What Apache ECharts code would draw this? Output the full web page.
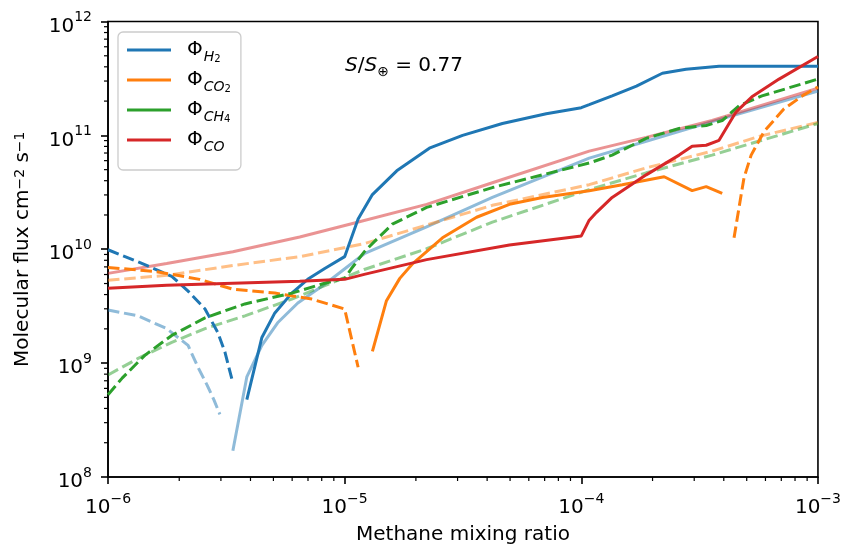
<!DOCTYPE html>
<html>
<head>
<meta charset="utf-8">
<script src="https://cdn.jsdelivr.net/npm/echarts@6/dist/echarts.min.js"></script>
<style>
  html, body { margin: 0; padding: 0; background: #ffffff; }
  #chart { width: 844px; height: 550px; }
</style>
</head>
<body>
<div id="chart"></div>
<script>
// Methane mixing ratio (x) against molecular flux in cm^-2 s^-1 (y).
// "net" curves are solid, "neg" curves are the dashed (negative) branches,
// "ref" curves are the faded reference runs.

const h2Net_x = [3.86e-6, 4.47e-6, 5.07e-6, 5.98e-6, 6.98e-6, 8.24e-6, 1.0e-5, 1.14e-5, 1.31e-5, 1.66e-5, 2.28e-5, 3.15e-5, 4.64e-5, 7.11e-5, 1.0e-4, 1.08e-4, 1.35e-4, 1.71e-4, 2.2e-4, 2.77e-4, 3.82e-4, 1.0e-3];
const h2Net_y = [4.78e8, 1.68e9, 2.76e9, 4.12e9, 5.44e9, 6.78e9, 8.61e9, 1.84e10, 3.02e10, 4.88e10, 7.72e10, 1.0e11, 1.27e11, 1.55e11, 1.75e11, 1.86e11, 2.22e11, 2.71e11, 3.51e11, 3.80e11, 4.04e11, 4.04e11];

const h2Neg_x = [1.0e-6, 1.43e-6, 1.86e-6, 2.18e-6, 2.57e-6, 2.91e-6, 3.12e-6, 3.37e-6];
const h2Neg_y = [9.9e9, 7.34e9, 5.78e9, 4.29e9, 2.99e9, 1.86e9, 1.25e9, 6.7e8];

const h2Ref_x = [3.37e-6, 3.86e-6, 4.47e-6, 5.21e-6, 6.34e-6, 8.24e-6, 1.21e-5, 2.22e-5, 4.21e-5, 1.08e-4, 1.88e-4, 3.57e-4, 1.0e-3];
const h2Ref_y = [1.7e8, 7.56e8, 1.43e9, 2.26e9, 3.37e9, 4.93e9, 9.14e9, 1.57e10, 2.85e10, 6.32e10, 8.87e10, 1.32e11, 2.45e11];

const h2RefNeg_x = [1.0e-6, 1.34e-6, 1.77e-6, 2.18e-6, 2.40e-6, 2.62e-6, 2.80e-6, 2.97e-6];
const h2RefNeg_y = [2.93e9, 2.6e9, 2.01e9, 1.43e9, 9.2e8, 6.45e8, 4.78e8, 3.55e8];

const co2Net_x = [1.31e-5, 1.50e-5, 1.71e-5, 1.94e-5, 2.59e-5, 3.61e-5, 4.97e-5, 6.85e-5, 1.08e-4, 1.49e-4, 2.24e-4, 2.94e-4, 3.37e-4, 3.94e-4];
const co2Net_y = [1.27e9, 3.51e9, 5.55e9, 7.49e9, 1.26e10, 1.91e10, 2.48e10, 2.85e10, 3.27e10, 3.69e10, 4.33e10, 3.27e10, 3.55e10, 3.09e10];

const co2NegLow_x = [1.0e-6, 1.58e-6, 2.44e-6, 3.37e-6, 5.07e-6, 7.26e-6, 1.0e-5, 1.14e-5];
const co2NegLow_y = [6.92e9, 6.39e9, 5.44e9, 4.46e9, 4.12e9, 3.65e9, 2.99e9, 9.2e8];

const co2NegHigh_x = [4.42e-4, 4.64e-4, 4.87e-4, 5.22e-4, 5.92e-4, 7.19e-4, 8.73e-4, 1.0e-3];
const co2NegHigh_y = [1.26e10, 2.33e10, 4.24e10, 6.71e10, 1.08e11, 1.71e11, 2.27e11, 2.66e11];

const co2Ref_x = [1.0e-6, 1.77e-6, 3.37e-6, 6.46e-6, 1.21e-5, 2.22e-5, 4.21e-5, 1.08e-4, 1.88e-4, 3.57e-4, 5.64e-4, 1.0e-3];
const co2Ref_y = [5.34e9, 5.9e9, 7.2e9, 8.61e9, 1.12e10, 1.63e10, 2.43e10, 3.69e10, 5.18e10, 7.27e10, 9.8e10, 1.3e11];

const ch4Net_x = [1.0e-6, 1.15e-6, 1.43e-6, 1.86e-6, 2.57e-6, 3.79e-6, 5.98e-6, 8.24e-6, 1.0e-5, 1.07e-5, 1.21e-5, 1.37e-5, 1.59e-5, 2.22e-5, 4.21e-5, 6.85e-5, 1.08e-4, 1.35e-4, 1.88e-4, 2.59e-4, 3.37e-4, 3.94e-4, 4.64e-4, 5.8e-4, 1.0e-3];
const ch4Net_y = [5.28e8, 7.42e8, 1.17e9, 1.75e9, 2.5e9, 3.31e9, 4.12e9, 5.03e9, 5.55e9, 6.78e9, 9.5e9, 1.23e10, 1.66e10, 2.33e10, 3.48e10, 4.5e10, 5.72e10, 6.71e10, 9.42e10, 1.15e11, 1.22e11, 1.35e11, 1.82e11, 2.22e11, 3.12e11];

const ch4Ref_x = [1.0e-6, 1.34e-6, 1.86e-6, 2.57e-6, 3.79e-6, 5.98e-6, 1.21e-5, 2.22e-5, 4.21e-5, 1.08e-4, 1.88e-4, 3.57e-4, 1.0e-3];
const ch4Ref_y = [7.87e8, 1.1e9, 1.52e9, 2.01e9, 2.6e9, 3.65e9, 6.64e9, 1.01e10, 1.73e10, 3.34e10, 4.69e10, 6.71e10, 1.27e11];

const coNet_x = [1.0e-6, 1.77e-6, 3.37e-6, 6.46e-6, 1.0e-5, 1.21e-5, 2.22e-5, 4.97e-5, 1.0e-4, 1.08e-4, 1.16e-4, 1.35e-4, 1.88e-4, 2.59e-4, 2.94e-4, 3.37e-4, 3.82e-4, 4.51e-4, 5.26e-4, 6.85e-4, 1.0e-3];
const coNet_y = [4.55e9, 4.83e9, 5.03e9, 5.23e9, 5.44e9, 6.02e9, 8.11e9, 1.09e10, 1.31e10, 1.8e10, 2.11e10, 2.85e10, 4.5e10, 6.71e10, 8.03e10, 8.19e10, 9.05e10, 1.61e11, 2.18e11, 3.12e11, 4.93e11];

const coRef_x = [1.0e-6, 1.77e-6, 3.37e-6, 6.46e-6, 1.05e-5, 2.22e-5, 4.21e-5, 1.08e-4, 1.88e-4, 3.57e-4, 1.0e-3];
const coRef_y = [6.14e9, 7.49e9, 9.5e9, 1.28e10, 1.66e10, 2.48e10, 3.84e10, 7.27e10, 9.6e10, 1.35e11, 2.6e11];

// Axis ranges and legend entries
const xRange = [1e-6, 1e-3];
const yRange = [1e8, 1e12];
const legendNames = ['H2', 'CO2', 'CH4', 'CO'];
const legendSubs = { H2: ['H', '2'], CO2: ['CO', '2'], CH4: ['CH', '4'], CO: ['CO', ''] };
const annotation = { lead: 'S', slash: '/', base: 'S', sub: '\u2295', tail: ' = 0.77' };

const FONT = 'DejaVu Sans';
const BLUE = '#1f77b4', ORANGE = '#ff7f0e', GREEN = '#2ca02c', RED = '#d62728';
const DASH = [11.5, 4.8];
const LW = 3;

function pairs(xs, ys) { return xs.map((x, i) => [x, ys[i]]); }

function line(name, xs, ys, color, dashed, faded) {
  return {
    name: name,
    type: 'line',
    data: pairs(xs, ys),
    symbol: 'none',
    showSymbol: false,
    smooth: false,
    animation: false,
    silent: true,
    z: faded ? 2 : 3,
    lineStyle: {
      color: color,
      width: LW,
      type: dashed ? DASH : 'solid',
      opacity: faded ? 0.5 : 1,
      cap: 'butt'
    },
    itemStyle: { color: color }
  };
}

// minor tick positions at 2..9 x 10^k inside each decade
const mantissas = [2, 3, 4, 5, 6, 7, 8, 9];
const minorX = [];
for (let k = -6; k < -3; k++) mantissas.forEach(m => minorX.push(m * Math.pow(10, k)));
const minorY = [];
for (let k = 8; k < 12; k++) mantissas.forEach(m => minorY.push(m * Math.pow(10, k)));

function expLabel(v) {
  const e = Math.round(Math.log10(v));
  const s = e < 0 ? '\u2212' + (-e) : String(e);
  return '{b|10}{e|' + s + '}';
}

const tickRich = {
  b: { fontFamily: FONT, fontSize: 20, color: '#000', lineHeight: 26, verticalAlign: 'bottom' },
  e: { fontFamily: FONT, fontSize: 14, color: '#000', lineHeight: 14, verticalAlign: 'top' }
};

const chart = echarts.init(document.getElementById('chart'), null, { renderer: 'canvas' });

const series = [
  // faded reference runs
  line('h2Ref', h2Ref_x, h2Ref_y, BLUE, false, true),
  line('h2RefNeg', h2RefNeg_x, h2RefNeg_y, BLUE, true, true),
  line('co2Ref', co2Ref_x, co2Ref_y, ORANGE, true, true),
  line('ch4Ref', ch4Ref_x, ch4Ref_y, GREEN, true, true),
  line('coRef', coRef_x, coRef_y, RED, false, true),
  // main runs
  line('H2', h2Net_x, h2Net_y, BLUE, false, false),
  line('h2Neg', h2Neg_x, h2Neg_y, BLUE, true, false),
  line('CO2', co2Net_x, co2Net_y, ORANGE, false, false),
  line('co2NegLow', co2NegLow_x, co2NegLow_y, ORANGE, true, false),
  line('co2NegHigh', co2NegHigh_x, co2NegHigh_y, ORANGE, true, false),
  line('CH4', ch4Net_x, ch4Net_y, GREEN, true, false),
  line('CO', coNet_x, coNet_y, RED, false, false),
  // minor ticks on the bottom and left spines
  {
    type: 'custom', silent: true, animation: false, clip: false, z: 5,
    data: minorX.map(v => [v, yRange[0]]),
    renderItem: (params, api) => {
      const p = api.coord([api.value(0), api.value(1)]);
      return { type: 'line', shape: { x1: p[0], y1: p[1], x2: p[0], y2: p[1] + 4 }, style: { stroke: '#000', lineWidth: 1.2 } };
    }
  },
  {
    type: 'custom', silent: true, animation: false, clip: false, z: 5,
    data: minorY.map(v => [xRange[0], v]),
    renderItem: (params, api) => {
      const p = api.coord([api.value(0), api.value(1)]);
      return { type: 'line', shape: { x1: p[0], y1: p[1], x2: p[0] - 4, y2: p[1] }, style: { stroke: '#000', lineWidth: 1.2 } };
    }
  }
];

const option = {
  backgroundColor: '#ffffff',
  animation: false,
  grid: {
    left: 108, right: 25, top: 21.5, bottom: 66.5,
    show: true, borderColor: '#000', borderWidth: 1.6, backgroundColor: 'transparent'
  },
  xAxis: {
    type: 'log', logBase: 10, min: xRange[0], max: xRange[1],
    name: 'Methane mixing ratio', nameLocation: 'middle', nameGap: 48,
    nameTextStyle: { fontFamily: FONT, fontSize: 20, color: '#000' },
    axisLine: { show: true, lineStyle: { color: '#000', width: 1.6 } },
    axisTick: { show: true, length: 7, lineStyle: { color: '#000', width: 1.6 } },
    splitLine: { show: false },
    minorTick: { show: false },
    axisLabel: { margin: 15, formatter: expLabel, rich: tickRich, color: '#000' }
  },
  yAxis: {
    type: 'log', logBase: 10, min: yRange[0], max: yRange[1],
    name: 'Molecular flux cm{s|\u22122} s{s|\u22121}', nameLocation: 'middle', nameGap: 75, nameRotate: 90,
    nameTextStyle: {
      fontFamily: FONT, fontSize: 20, color: '#000',
      rich: {
        s: { fontFamily: FONT, fontSize: 14, color: '#000', verticalAlign: 'top', lineHeight: 14 }
      }
    },
    axisLine: { show: true, lineStyle: { color: '#000', width: 1.6 } },
    axisTick: { show: true, length: 7, lineStyle: { color: '#000', width: 1.6 } },
    splitLine: { show: false },
    minorTick: { show: false },
    axisLabel: { margin: 16, formatter: expLabel, rich: tickRich, color: '#000', padding: [4, 0, 0, 0] }
  },
  legend: {
    orient: 'vertical', left: 118, top: 32,
    padding: [8, 10, 16, 9], itemGap: 6, itemWidth: 44, itemHeight: 3,
    backgroundColor: 'rgba(255,255,255,0.8)', borderColor: '#cccccc', borderWidth: 1.3, borderRadius: 5,
    selectedMode: false,
    data: legendNames.map(n => ({ name: n, icon: 'path://M0,0L44,0L44,3L0,3Z' })),
    formatter: name => {
      const s = legendSubs[name];
      return '{p|\u03A6}{s|' + s[0] + '}' + (s[1] ? '{ss|' + s[1] + '}' : '');
    },
    textStyle: {
      color: '#000',
      rich: {
        p: { fontFamily: FONT, fontSize: 20, color: '#000', lineHeight: 28, verticalAlign: 'middle', padding: [0, 1, 0, 11] },
        s: { fontFamily: FONT, fontSize: 14, fontStyle: 'italic', color: '#000', lineHeight: 13, verticalAlign: 'bottom' },
        ss: { fontFamily: FONT, fontSize: 10, color: '#000', lineHeight: 8, verticalAlign: 'bottom' }
      }
    }
  },
  graphic: [
    {
      type: 'text', left: 345, top: 56, silent: true,
      style: {
        text: '{i|' + annotation.lead + '}{n|' + annotation.slash + '}{i|' + annotation.base + '}{s|' + annotation.sub + '}{n|' + annotation.tail + '}',
        rich: {
          i: { fontFamily: FONT, fontSize: 20, fontStyle: 'italic', fill: '#000', lineHeight: 26, verticalAlign: 'middle' },
          n: { fontFamily: FONT, fontSize: 20, fill: '#000', lineHeight: 26, verticalAlign: 'middle' },
          s: { fontFamily: FONT, fontSize: 14, fill: '#000', lineHeight: 14, verticalAlign: 'bottom' }
        }
      }
    }
  ],
  series: series
};

chart.setOption(option);
</script>
</body>
</html>
